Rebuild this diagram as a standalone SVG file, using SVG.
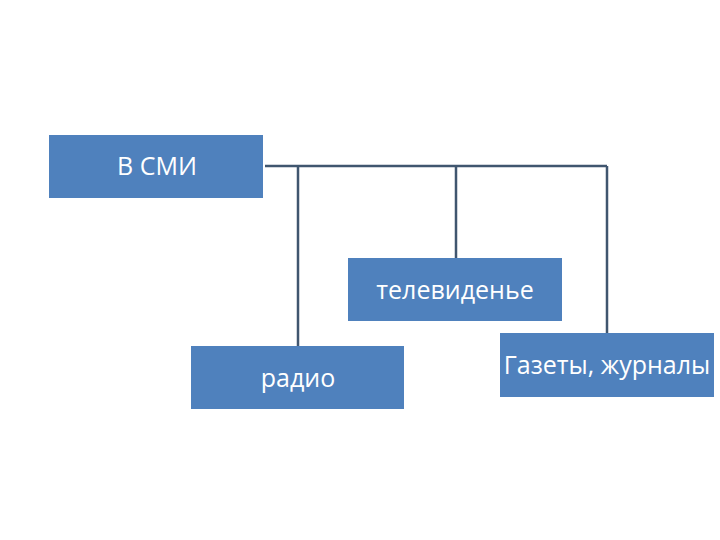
<svg xmlns="http://www.w3.org/2000/svg" width="720" height="540" viewBox="0 0 720 540">
<style>
.box{fill:#4F81BD;}
.lbl{fill:#FFFFFF;font-family:"Open Sans","Liberation Sans",sans-serif;font-size:25px;text-anchor:middle;dominant-baseline:central;}
.conn{stroke:#40566F;stroke-width:2.5;fill:none;}
</style>
<rect width="720" height="540" fill="#FFFFFF"/>
<g id="connectors">
<path class="conn" d="M265,166 H607 M298,166 V346 M456,166 V258 M607,166 V333"/>
</g>
<g id="smi">
<rect class="box" x="49" y="135" width="214" height="63"/>
<text class="lbl" x="157" y="165">В СМИ</text>
</g>
<g id="tv">
<rect class="box" x="348" y="258" width="214" height="63"/>
<text class="lbl" x="455" y="289">телевиденье</text>
</g>
<g id="radio">
<rect class="box" x="191" y="346" width="213" height="63"/>
<text class="lbl" x="298" y="377">радио</text>
</g>
<g id="gazety">
<rect class="box" x="500" y="333" width="214" height="64"/>
<text class="lbl" x="607" y="364">Газеты, журналы</text>
</g>
</svg>
